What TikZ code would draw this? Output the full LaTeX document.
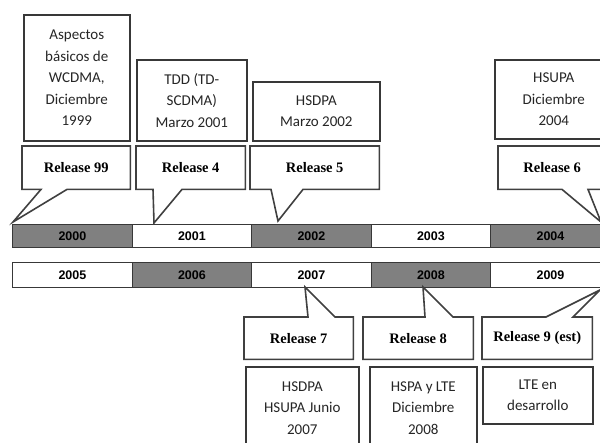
\documentclass[tikz,border=0pt]{standalone}
\usepackage{fontspec}
\setmainfont{Carlito}
\newfontfamily\relfont{Liberation Serif}
\newfontfamily\yearfont{Liberation Sans}
\usetikzlibrary{calc}

\tikzset{
  infobox/.style={draw=black!78,line width=1.6pt,fill=white,align=center,anchor=north west,
    inner sep=0pt,text=black!85,font=\fontsize{15}{21.5}\selectfont},
  relbox/.style={anchor=north west,inner sep=0pt,font=\relfont\bfseries\fontsize{14.5}{16}\selectfont},
  relline/.style={draw=black!75,line width=1.6pt,line join=miter},
  yearcell/.style={draw=black!78,line width=1.4pt,anchor=north west,inner sep=0pt,
    minimum width=119.5pt,font=\yearfont\bfseries\fontsize{12.5}{14}\selectfont},
  yeardark/.style={fill=black!50},
  yearlight/.style={fill=white}
}

% callout with the pointer below / above the box
\newcommand{\calldown}[4]{%
  \draw[relline] (#1.south west) -- (#1.north west) -- (#1.north east) -- (#1.south east)
    -- ($(#1.south west)+(#3,0)$) -- (#4) -- ($(#1.south west)+(#2,0)$) -- cycle;}
\newcommand{\callup}[4]{%
  \draw[relline] (#1.north west) -- ($(#1.north west)+(#2,0)$) -- (#4)
    -- ($(#1.north west)+(#3,0)$) -- (#1.north east) -- (#1.south east) -- (#1.south west) -- cycle;}

\begin{document}
\begin{tikzpicture}[x=1pt,y=-1pt]
  \useasboundingbox (0,0) rectangle (600,443);

  % timeline
  \foreach \yr/\col [count=\i from 0] in {2000/yeardark,2001/yearlight,2002/yeardark,2003/yearlight,2004/yeardark}
    \node[yearcell,\col,minimum height=23pt] (y\yr) at ({12+\i*119.5},224) {\yr};
  \foreach \yr/\col [count=\i from 0] in {2005/yearlight,2006/yeardark,2007/yearlight,2008/yeardark,2009/yearlight}
    \node[yearcell,\col,minimum height=25pt] (y\yr) at ({12+\i*119.5},262) {\yr};

  % upper releases
  \node[infobox,minimum width=106pt,minimum height=126pt] (a99) at (23,14)
    {Aspectos\\básicos de\\WCDMA,\\Diciembre\\1999};
  \node[infobox,minimum width=110pt,minimum height=81pt] (a4) at (136,59)
    {TDD (TD-\\SCDMA)\\Marzo 2001};
  \node[infobox,minimum width=127pt,minimum height=59pt] (a5) at (252,81)
    {HSDPA\\Marzo 2002};
  \node[infobox,minimum width=118pt,minimum height=79pt] (a6) at (494,59)
    {HSUPA\\Diciembre\\2004};

  \coordinate (p99) at (13,222);
  \coordinate (p4) at (154,223);
  \coordinate (p5) at (278,221);
  \coordinate (p6) at (601,222);

  \node[relbox,minimum width=108pt,minimum height=43pt] (r99) at (22,146) {Release 99};
  \calldown{r99}{19}{45}{p99}
  \node[relbox,minimum width=109pt,minimum height=43pt] (r4) at (136,146) {Release 4};
  \calldown{r4}{17}{46}{p4}
  \node[relbox,minimum width=129pt,minimum height=43pt] (r5) at (250,146) {Release 5};
  \calldown{r5}{21}{53}{p5}
  \node[relbox,minimum width=108pt,minimum height=43pt] (r6) at (498,146) {Release 6};
  \calldown{r6}{64}{90}{p6}

  % lower releases
  \coordinate (p7) at (305,287);
  \coordinate (p8) at (423,287);
  \coordinate (p9) at (600,290);

  \node[relbox,minimum width=109pt,minimum height=42pt] (r7) at (244,317) {Release 7};
  \callup{r7}{64}{91}{p7}
  \node[relbox,minimum width=110pt,minimum height=42pt] (r8) at (363,317) {Release 8};
  \callup{r8}{62}{90}{p8}
  \node[relbox,minimum width=110pt,minimum height=42pt] (r9) at (482,317) {Release 9 (est)};
  \callup{r9}{64}{91}{p9}

  \node[infobox,minimum width=113pt,minimum height=82pt] (a7) at (245,366)
    {HSDPA\\HSUPA Junio\\2007};
  \node[infobox,minimum width=107pt,minimum height=82pt] (a8) at (369,366)
    {HSPA y LTE\\Diciembre\\2008};
  \node[infobox,minimum width=110pt,minimum height=57pt] (a9) at (482,366)
    {LTE en\\desarrollo};
\end{tikzpicture}
\end{document}
